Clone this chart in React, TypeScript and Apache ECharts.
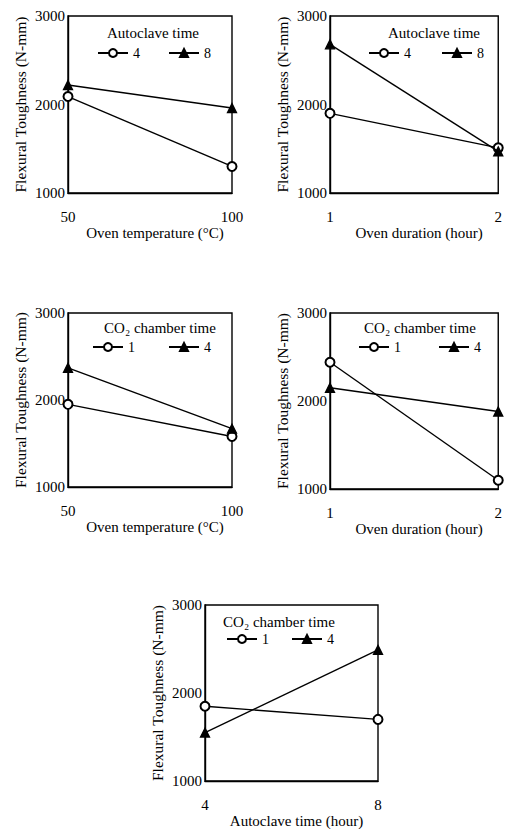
import React, { useEffect, useRef } from "react";
import * as echarts from "echarts";

// Panel 1: oven temperature vs autoclave time
const p1Categories = ["50", "100"];
const p1Autoclave4 = [2090, 1300];
const p1Autoclave8 = [2220, 1960];
// Panel 2: oven duration vs autoclave time
const p2Categories = ["1", "2"];
const p2Autoclave4 = [1900, 1510];
const p2Autoclave8 = [2680, 1470];
// Panel 3: oven temperature vs CO2 chamber time
const p3Categories = ["50", "100"];
const p3Co2_1 = [1950, 1580];
const p3Co2_4 = [2370, 1670];
// Panel 4: oven duration vs CO2 chamber time
const p4Categories = ["1", "2"];
const p4Co2_1 = [2440, 1100];
const p4Co2_4 = [2150, 1880];
// Panel 5: autoclave time vs CO2 chamber time
const p5Categories = ["4", "8"];
const p5Co2_1 = [1850, 1700];
const p5Co2_4 = [1550, 2490];

const yTicks = { min: 1000, max: 3000, interval: 1000 };
const yTitle = "Flexural Toughness (N-mm)";

const FONT = "Liberation Serif";

type Panel = {
  grid: { left: number; top: number; width: number; height: number };
  categories: string[];
  xTitle: string;
  legendTitle: string;
  titlePos: [number, number];
  legendPos: [number, number];
  legendGap: number;
  s1: { key: string; label: string; data: number[] };
  s2: { key: string; label: string; data: number[] };
};

const panels: Panel[] = [
  {
    grid: { left: 68, top: 16, width: 164, height: 177 },
    categories: p1Categories,
    xTitle: "Oven temperature (°C)",
    legendTitle: "Autoclave time",
    titlePos: [153, 25],
    legendPos: [97, 46],
    legendGap: 28,
    s1: { key: "p1|4", label: "4", data: p1Autoclave4 },
    s2: { key: "p1|8", label: "8", data: p1Autoclave8 },
  },
  {
    grid: { left: 330, top: 16, width: 169, height: 177 },
    categories: p2Categories,
    xTitle: "Oven duration (hour)",
    legendTitle: "Autoclave time",
    titlePos: [434, 25],
    legendPos: [368, 46],
    legendGap: 30,
    s1: { key: "p2|4", label: "4", data: p2Autoclave4 },
    s2: { key: "p2|8", label: "8", data: p2Autoclave8 },
  },
  {
    grid: { left: 68, top: 313, width: 164, height: 174 },
    categories: p3Categories,
    xTitle: "Oven temperature (°C)",
    legendTitle: "CO₂ chamber time",
    titlePos: [160, 320],
    legendPos: [92, 340],
    legendGap: 33,
    s1: { key: "p3|1", label: "1", data: p3Co2_1 },
    s2: { key: "p3|4", label: "4", data: p3Co2_4 },
  },
  {
    grid: { left: 330, top: 313, width: 169, height: 176 },
    categories: p4Categories,
    xTitle: "Oven duration (hour)",
    legendTitle: "CO₂ chamber time",
    titlePos: [420, 320],
    legendPos: [358, 340],
    legendGap: 37,
    s1: { key: "p4|1", label: "1", data: p4Co2_1 },
    s2: { key: "p4|4", label: "4", data: p4Co2_4 },
  },
  {
    grid: { left: 205, top: 605, width: 173, height: 176 },
    categories: p5Categories,
    xTitle: "Autoclave time (hour)",
    legendTitle: "CO₂ chamber time",
    titlePos: [279, 614],
    legendPos: [226, 632],
    legendGap: 22,
    s1: { key: "p5|1", label: "1", data: p5Co2_1 },
    s2: { key: "p5|4", label: "4", data: p5Co2_4 },
  },
];

export default function App() {
  const ref = useRef<HTMLDivElement>(null);

  useEffect(() => {
    if (!ref.current) return;
    const chart = echarts.init(ref.current, undefined, { renderer: "svg" });

    const grid: any[] = [];
    const xAxis: any[] = [];
    const yAxis: any[] = [];
    const series: any[] = [];
    const legend: any[] = [];
    const title: any[] = [];

    panels.forEach((p, i) => {
      grid.push({
        ...p.grid,
        show: true,
        borderColor: "#000",
        borderWidth: 1.4,
        backgroundColor: "transparent",
      });
      xAxis.push({
        type: "category",
        gridIndex: i,
        data: p.categories,
        boundaryGap: false,
        axisLine: { show: true, lineStyle: { color: "#000", width: 1.4 } },
        axisTick: { show: false },
        splitLine: { show: false },
        axisLabel: {
          interval: 0,
          margin: 16,
          color: "#000",
          fontFamily: FONT,
          fontSize: 15,
        },
        name: p.xTitle,
        nameLocation: "middle",
        nameGap: 32,
        nameTextStyle: {
          color: "#000",
          fontFamily: FONT,
          fontSize: 15,
          padding: [0, 0, 0, 10],
        },
      });
      yAxis.push({
        type: "value",
        gridIndex: i,
        min: yTicks.min,
        max: yTicks.max,
        interval: yTicks.interval,
        axisLine: { show: true, lineStyle: { color: "#000", width: 1.4 } },
        axisTick: { show: false },
        splitLine: { show: false },
        axisLabel: {
          margin: 3,
          color: "#000",
          fontFamily: FONT,
          fontSize: 15,
          formatter: (v: number) => String(v),
        },
        name: yTitle,
        nameLocation: "middle",
        nameGap: 40,
        nameTextStyle: {
          color: "#000",
          fontFamily: FONT,
          fontSize: 15.5,
        },
      });
      const common = {
        type: "line",
        xAxisIndex: i,
        yAxisIndex: i,
        symbolSize: 9,
        lineStyle: { color: "#000", width: 1.4 },
        itemStyle: { color: "#000", borderColor: "#000", borderWidth: 1.3 },
        emphasis: { disabled: true },
      };
      series.push({
        ...common,
        name: p.s1.key,
        symbol: "emptyCircle",
        data: p.s1.data,
        z: 3,
      });
      series.push({
        ...common,
        name: p.s2.key,
        symbol: "triangle",
        data: p.s2.data,
        z: 4,
      });
      legend.push({
        left: p.legendPos[0],
        top: p.legendPos[1],
        padding: 0,
        itemWidth: 30,
        itemHeight: 10,
        itemGap: p.legendGap,
        selectedMode: false,
        data: [p.s1.key, p.s2.key],
        formatter: (name: string) => name.split("|")[1],
        textStyle: { color: "#000", fontFamily: FONT, fontSize: 14 },
      });
      title.push({
        text: p.legendTitle,
        left: p.titlePos[0],
        top: p.titlePos[1],
        textAlign: "center",
        padding: 0,
        textStyle: {
          color: "#000",
          fontFamily: FONT,
          fontSize: 15,
          fontWeight: "normal",
        },
      });
    });

    chart.setOption({
      animation: false,
      backgroundColor: "#fff",
      title,
      legend,
      grid,
      xAxis,
      yAxis,
      series,
    });

    return () => chart.dispose();
  }, []);

  return (
    <div
      ref={ref}
      style={{ position: "absolute", left: 0, top: 0, width: 505, height: 829 }}
    />
  );
}
